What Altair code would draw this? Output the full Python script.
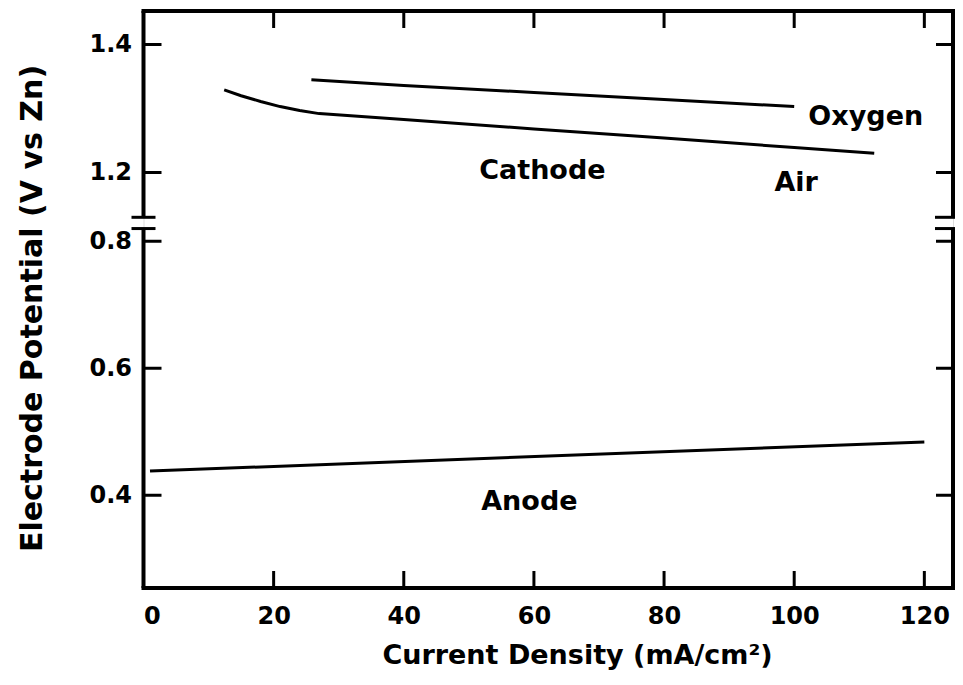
import altair as alt
import pandas as pd

# ---- data ----
oxygen_x = [25.8, 40, 60, 80, 100]
oxygen_y = [1.345, 1.336, 1.325, 1.314, 1.303]

air_x = [12.4, 15, 18, 21, 24, 27, 40, 60, 80, 100, 112.3]
air_y = [1.329, 1.320, 1.311, 1.303, 1.297, 1.292, 1.283, 1.268, 1.254, 1.239, 1.230]

anode_x = [1, 120]
anode_y = [0.438, 0.484]

x_ticks = [0, 20, 40, 60, 80, 100, 120]
y_ticks = [0.4, 0.6, 0.8, 1.2, 1.4]

labels = ["Oxygen", "Air", "Cathode", "Anode"]
label_x = [111.0, 100.3, 61.3, 59.3]
label_y = [1.286, 1.183, 1.203, 0.389]

# axis break: lower part ends at 0.82, upper part starts at 1.13
break_lo, break_hi = 0.82, 1.13

LEFT = 143.5   # page column of the left frame
TOP = 11       # page row of the top frame
W, H = 809.5, 577
PX_PER_X = 6.507
x_min, x_max = 0, W / PX_PER_X
FONT = "DejaVu Sans"


def lower_px(v):
    return 495.25 - (v - 0.4) * 635 - TOP


def upper_px(v):
    return 44.5 + (1.4 - v) * 640 - TOP


y_min = 0.4 - (H + TOP - 495.25) / 635
y_max = 1.4 + (44.5 - TOP) / 640

lines = pd.concat([
    pd.DataFrame({"x": oxygen_x, "y": oxygen_y, "s": "Oxygen"}),
    pd.DataFrame({"x": air_x, "y": air_y, "s": "Air"}),
    pd.DataFrame({"x": anode_x, "y": anode_y, "s": "Anode"}),
])

xs = alt.Scale(domain=[x_min, x_max], nice=False, zero=False)
ys = alt.Scale(domain=[y_min, break_lo, break_hi, y_max],
               range=[H, lower_px(break_lo), upper_px(break_hi), 0],
               nice=False, zero=False)

xaxis = alt.Axis(values=x_ticks, format="d", ticks=False, domain=False, grid=False,
                 labelFont=FONT, labelFontWeight="bold", labelFontSize=24,
                 labelColor="black", labelPadding=16,
                 title="Current Density  (mA/cm²)", titleFont=FONT,
                 titleFontWeight="bold", titleFontSize=27, titleColor="black",
                 titleX=577 - LEFT, titleY=75, titleBaseline="alphabetic",
                 titleAlign="center")
yaxis = alt.Axis(values=y_ticks, format=".1f", ticks=False, domain=False, grid=False,
                 labelFont=FONT, labelFontWeight="bold", labelFontSize=24,
                 labelColor="black", labelPadding=12,
                 title="Electrode Potential  (V vs Zn)", titleFont=FONT,
                 titleFontWeight="bold", titleFontSize=30, titleColor="black",
                 titleX=41 - LEFT, titleY=308 - TOP, titleAngle=270,
                 titleBaseline="alphabetic", titleAlign="center")

X = alt.X("x:Q", scale=xs, axis=xaxis)
Y = alt.Y("y:Q", scale=ys, axis=yaxis)
Y2 = alt.Y2("y2:Q")

curves = alt.Chart(lines).mark_line(color="black", strokeWidth=3).encode(
    x=X, y=Y, detail="s:N")

seg = pd.DataFrame({"y": [y_min, break_hi], "y2": [break_lo, y_max]})
left_frame = alt.Chart(seg).mark_rule(color="black", strokeWidth=4).encode(
    x=alt.value(0), y=Y, y2=Y2)
right_frame = alt.Chart(seg).mark_rule(color="black", strokeWidth=4).encode(
    x=alt.value(W), y=Y, y2=Y2)

caps = pd.DataFrame({"y": [break_lo, break_hi]})
left_caps = alt.Chart(caps).mark_rule(color="black", strokeWidth=3).encode(
    y=Y, x=alt.value(-12), x2=alt.value(12))
right_caps = alt.Chart(caps).mark_rule(color="black", strokeWidth=3).encode(
    y=Y, x=alt.value(W - 18), x2=alt.value(W + 2))

one = pd.DataFrame({"k": [0]})
top_frame = alt.Chart(one).mark_rule(color="black", strokeWidth=4).encode(
    x=alt.value(-2), x2=alt.value(W + 2), y=alt.value(0))
bottom_frame = alt.Chart(one).mark_rule(color="black", strokeWidth=4).encode(
    x=alt.value(-2), x2=alt.value(W + 2), y=alt.value(H))

yt = pd.DataFrame({"y": y_ticks})
left_ticks = alt.Chart(yt).mark_rule(color="black", strokeWidth=3).encode(
    y=Y, x=alt.value(0), x2=alt.value(18))
right_ticks = alt.Chart(yt).mark_rule(color="black", strokeWidth=3).encode(
    y=Y, x=alt.value(W - 17), x2=alt.value(W))

xt = pd.DataFrame({"x": x_ticks[1:]})
bottom_ticks = alt.Chart(xt).mark_rule(color="black", strokeWidth=3).encode(
    x=X, y=alt.value(H), y2=alt.value(H - 17))
top_ticks = alt.Chart(xt).mark_rule(color="black", strokeWidth=3).encode(
    x=X, y=alt.value(0), y2=alt.value(17))

ann = pd.DataFrame({"x": label_x, "y": label_y, "t": labels})
texts = alt.Chart(ann).mark_text(font=FONT, fontWeight="bold", fontSize=27,
                                 color="black", align="center", baseline="middle").encode(
    x=X, y=Y, text="t:N")

chart = alt.layer(
    curves, left_frame, right_frame, left_caps, right_caps, top_frame, bottom_frame,
    left_ticks, right_ticks, bottom_ticks, top_ticks, texts
).properties(
    width=W, height=H,
    autosize=alt.AutoSizeParams(type="none"),
    padding={"left": LEFT - 8, "top": TOP - 8, "right": 2, "bottom": 83},
).configure_view(stroke=None).configure(background="white")

chart.save("out.html", embed_options={"renderer": "svg", "actions": False})
